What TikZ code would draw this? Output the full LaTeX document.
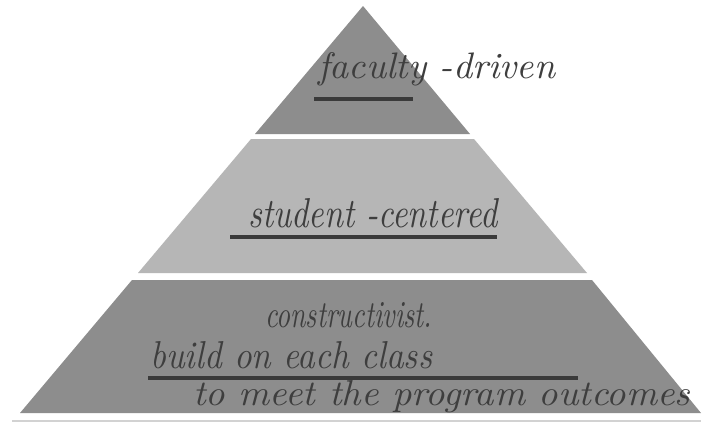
\documentclass[tikz,border=0pt]{standalone}
\usepackage{graphicx}
\begin{document}
\begin{tikzpicture}[x=1pt,y=-1pt,
  tierdark/.style={fill=tierA},
  tierlight/.style={fill=tierB},
  underbar/.style={draw=barC,line width=4pt},
  script/.style={inner sep=0pt,text=inkC,font=\itshape,anchor=base west}]
\definecolor{tierA}{RGB}{141,141,141}
\definecolor{tierB}{RGB}{182,182,182}
\definecolor{barC}{RGB}{58,58,58}
\definecolor{inkC}{RGB}{62,62,62}
\useasboundingbox (0,0) rectangle (703,424);
\fill[white] (0,0) rectangle (703,424);

% three tiers of the pyramid
\fill[tierdark]  (363,6) -- (470,134) -- (255,134) -- cycle;
\fill[tierlight] (251,139) -- (474,139) -- (587,273) -- (138,273) -- cycle;
\fill[tierdark]  (132,280) -- (592,280) -- (701,413) -- (20,413) -- cycle;

% ground line
\draw[gray!35,line width=1.5pt] (12,421) -- (701,421);

% underlines
\coordinate (u1a) at (314,99);  \coordinate (u1b) at (413,99);
\coordinate (u2a) at (230,237); \coordinate (u2b) at (497,237);
\coordinate (u3a) at (148,378); \coordinate (u3b) at (578,378);
\draw[underbar] (u1a) -- (u1b);
\draw[underbar] (u2a) -- (u2b);
\draw[underbar] (u3a) -- (u3b);

% handwritten labels
\node[script] (t1) at (318,78)  {\resizebox{237pt}{26pt}{faculty -driven}};
\node[script] (t2) at (248,227) {\resizebox{249pt}{29pt}{student -centered}};
\node[script] (t3) at (265,327) {\resizebox{167pt}{25pt}{constructivist.}};
\node[script] (t4) at (150,368) {\resizebox{282pt}{27pt}{build on each class}};
\node[script] (t5) at (193,405) {\resizebox{497pt}{25pt}{to meet the program outcomes}};
\end{tikzpicture}
\end{document}
